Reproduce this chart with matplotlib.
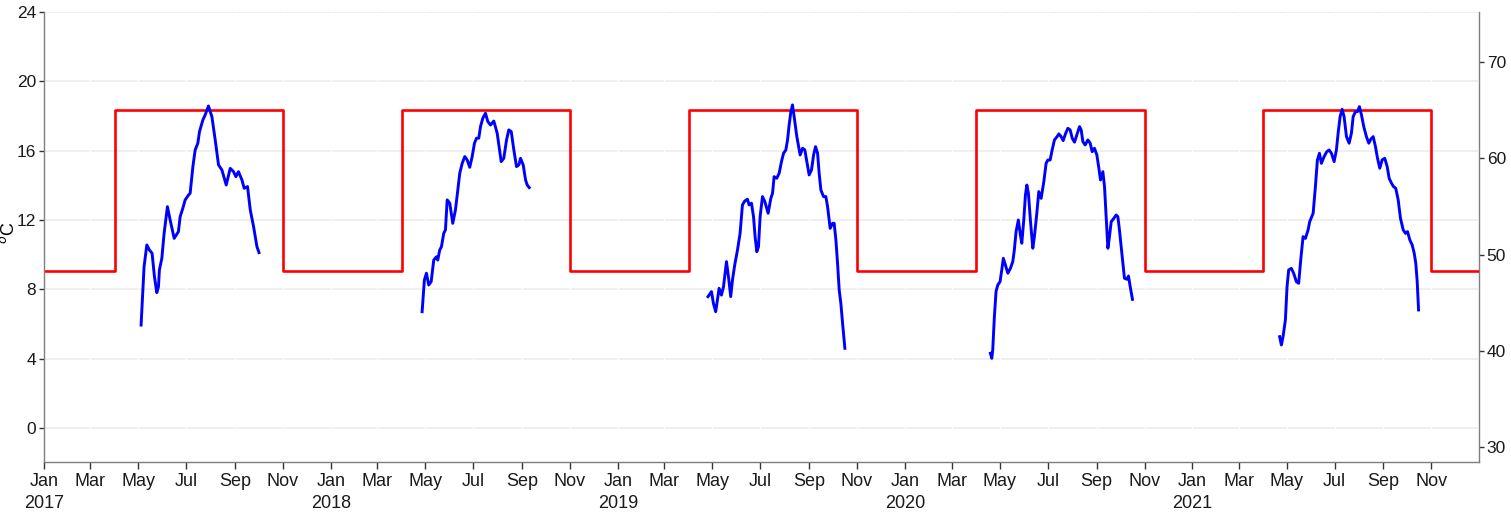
import matplotlib
matplotlib.use("Agg")
import matplotlib.pyplot as plt
import numpy as np
import pandas as pd
from matplotlib import font_manager

names = {f.name for f in font_manager.fontManager.ttflist}
fam = [n for n in ["Liberation Sans Narrow", "Liberation Sans", "DejaVu Sans"] if n in names]
plt.rcParams["font.family"] = fam

# ---- data: day-of-year (0 = Jan 1) and water temperature (deg C) per season
doy_2017 = [123.5, 127.3, 130.8, 134.1, 137.5, 140.5, 143.5, 145.6, 146.8, 149.9, 152.8, 157.0, 160.5,
            165.6, 171.0, 173.2, 176.6, 179.6, 183.8, 185.9, 189.4, 192.3, 195.7, 197.8, 202.1, 205.0,
            209.2, 213.6, 217.8, 222.0, 226.3, 231.8, 236.9, 241.1, 244.1, 247.4, 251.8, 254.7, 258.9,
            262.4, 266.6, 270.9, 273.5]
temp_2017 = [5.94, 9.31, 10.56, 10.27, 10.08, 8.73, 7.81, 8.15, 9.12, 9.79, 11.23, 12.77, 12.0,
             10.94, 11.33, 12.19, 12.68, 13.16, 13.44, 13.54, 15.08, 16.04, 16.43, 17.1, 17.77, 18.06,
             18.58, 17.96, 16.62, 15.18, 14.89, 14.02, 14.98, 14.79, 14.5, 14.79, 14.31, 13.83, 13.93,
             12.58, 11.62, 10.46, 10.12]

doy_2018 = [116.0, 118.9, 121.5, 124.4, 127.5, 130.8, 134.2, 135.9, 138.4, 140.6, 143.5, 145.7, 147.9,
            151.2, 155.0, 158.4, 161.4, 163.9, 167.0, 170.3, 173.3, 176.6, 179.7, 182.6, 185.2, 188.1,
            190.3, 193.2, 196.6, 199.6, 203.0, 207.2, 211.5, 216.6, 219.9, 223.4, 226.3, 229.4, 232.7,
            236.1, 239.1, 241.2, 244.6, 247.6, 249.7, 252.3]
temp_2018 = [6.71, 8.54, 8.93, 8.25, 8.44, 9.69, 9.88, 9.69, 10.27, 10.46, 11.23, 11.43, 13.16,
             12.97, 11.81, 12.58, 13.73, 14.70, 15.27, 15.66, 15.47, 15.04, 15.66, 16.43, 16.72, 16.72,
             17.39, 17.87, 18.16, 17.68, 17.48, 17.71, 17.01, 15.37, 15.56, 16.62, 17.20, 17.10, 16.04,
             15.08, 15.18, 15.56, 15.18, 14.31, 14.02, 13.87]

doy_2019 = [114.7, 119.1, 121.6, 124.5, 126.7, 128.8, 131.8, 134.4, 138.2, 140.7, 143.6, 145.8, 148.7,
            152.2, 155.5, 158.5, 161.5, 164.9, 167.0, 170.0, 172.6, 174.6, 176.8, 178.9, 181.0, 184.0,
            187.0, 191.2, 194.6, 196.8, 198.8, 202.2, 205.2, 208.2, 210.8, 213.7, 215.9, 217.9, 220.1,
            222.2, 224.3, 227.7, 231.9, 235.0, 237.9, 240.4, 243.4, 246.4, 249.0, 251.5, 254.1, 256.1,
            258.3, 261.7, 264.6, 266.8, 270.1, 273.2, 275.2, 277.4, 279.5, 281.6, 283.7, 285.9, 288.8]
temp_2019 = [7.58, 7.87, 7.19, 6.71, 7.39, 8.06, 7.67, 8.15, 9.60, 8.73, 7.58, 8.54, 9.41,
             10.27, 11.23, 12.87, 13.10, 13.20, 12.87, 12.97, 12.19, 11.04, 10.17, 10.46, 12.19, 13.35,
             13.06, 12.39, 13.25, 13.54, 14.50, 14.41, 14.70, 15.37, 15.85, 16.04, 16.62, 17.48, 18.25,
             18.64, 17.96, 16.81, 15.75, 16.14, 16.04, 15.37, 14.60, 14.89, 15.75, 16.23, 15.85, 14.70,
             13.73, 13.35, 13.35, 12.77, 11.52, 11.81, 11.81, 10.85, 9.50, 7.96, 7.19, 6.04, 4.60]

doy_2020 = [108.9, 110.7, 111.9, 114.0, 116.1, 118.3, 121.2, 123.4, 125.4, 128.0, 131.1, 134.4, 137.4,
            139.4, 141.6, 144.5, 147.1, 148.9, 151.4, 153.5, 155.3, 157.3, 159.8, 162.9, 164.9, 168.0,
            170.5, 173.5, 176.9, 179.8, 182.0, 184.9, 187.5, 190.4, 193.8, 196.0, 198.9, 201.5, 204.4,
            207.5, 210.4, 213.0, 215.9, 218.9, 222.3, 224.4, 226.6, 229.5, 232.9, 235.9, 238.4, 241.3,
            244.4, 246.9, 249.0, 252.0, 254.1, 256.2, 258.4, 260.4, 262.6, 266.0, 268.9, 271.1, 273.1,
            275.3, 277.5, 279.5, 282.6, 284.6, 286.8, 289.7]
temp_2020 = [4.31, 4.02, 4.50, 6.42, 7.87, 8.25, 8.44, 9.12, 9.79, 9.41, 8.93, 9.21, 9.60,
             10.27, 11.33, 12.0, 11.14, 10.66, 12.0, 13.44, 14.02, 13.54, 12.0, 10.37, 11.04, 12.39,
             13.64, 13.25, 14.21, 15.27, 15.46, 15.46, 16.04, 16.62, 16.81, 16.97, 16.81, 16.58, 16.97,
             17.29, 17.20, 16.72, 16.49, 16.91, 17.39, 17.20, 16.52, 16.33, 16.62, 16.43, 15.94, 16.14,
             15.75, 14.99, 14.31, 14.79, 13.93, 12.19, 10.37, 11.04, 11.90, 12.10, 12.29, 12.19, 11.43,
             10.46, 9.50, 8.64, 8.58, 8.77, 8.15, 7.42]

doy_2021 = [110.9, 113.1, 115.2, 118.2, 120.3, 122.4, 125.8, 128.7, 132.2, 135.1, 137.7, 140.7, 143.7,
            147.1, 149.1, 153.5, 156.4, 158.9, 161.5, 164.0, 167.5, 170.8, 173.8, 176.8, 180.2, 183.1,
            185.3, 187.8, 190.4, 192.9, 195.9, 199.3, 202.2, 204.4, 207.3, 209.9, 212.4, 215.0, 217.9,
            221.3, 224.3, 226.8, 229.9, 232.8, 235.4, 238.3, 241.3, 244.6, 247.7, 250.2, 253.2, 255.7,
            258.6, 261.7, 264.6, 268.1, 271.0, 273.6, 276.5, 279.5, 282.1, 284.1, 285.9, 287.6]
temp_2021 = [5.27, 4.79, 5.27, 6.23, 8.15, 9.12, 9.21, 8.93, 8.44, 8.35, 9.69, 11.04, 10.94,
             11.43, 11.90, 12.39, 13.93, 15.46, 15.85, 15.27, 15.66, 15.94, 16.04, 15.85, 15.37, 16.04,
             17.01, 17.96, 18.39, 17.96, 16.81, 16.43, 17.01, 17.96, 18.25, 18.25, 18.54, 18.06, 17.39,
             16.81, 16.43, 16.66, 16.81, 16.23, 15.56, 14.99, 15.47, 15.56, 15.08, 14.41, 14.12, 13.93,
             13.83, 13.16, 12.10, 11.43, 11.23, 11.33, 10.85, 10.56, 10.08, 9.50, 8.44, 6.81]

seasons = {2017: (doy_2017, temp_2017), 2018: (doy_2018, temp_2018), 2019: (doy_2019, temp_2019),
           2020: (doy_2020, temp_2020), 2021: (doy_2021, temp_2021)}

# threshold step line (deg C): low outside season, high Apr-Oct
threshold_dates = ["2017-01-01", "2017-04-01", "2017-11-01", "2018-04-01", "2018-11-01",
                   "2019-04-01", "2019-11-01", "2020-04-01", "2020-11-01", "2021-04-01",
                   "2021-11-01", "2021-12-31"]
threshold_vals = [9.05, 18.33, 9.05, 18.33, 9.05, 18.33, 9.05, 18.33, 9.05, 18.33, 9.05, 9.05]

left_ticks = [0, 4, 8, 12, 16, 20, 24]
right_ticks = [30, 40, 50, 60, 70]

# ---- figure
W, H = 1511, 519
fig = plt.figure(figsize=(W / 100, H / 100), dpi=100)
ax = fig.add_axes([44 / W, (H - 462) / H, (1479 - 44) / W, (462 - 12) / H])

axis_col = "#7f7f7f"
txt_col = "#1a1a1a"

for tv in left_ticks:
    ax.axhline(tv, color="#ebebeb", lw=1.1, zorder=0.5)

xticks = pd.date_range("2017-01-01", "2021-11-01", freq="2MS")
for xt in xticks:
    ax.axvline(xt, color="white", lw=0.8, zorder=0.6)

td = pd.to_datetime(threshold_dates)
ax.step(td, threshold_vals, where="post", color="#ff0000", lw=1.9, zorder=2)

for yr, (d, t) in seasons.items():
    dates = pd.Timestamp(f"{yr}-01-01") + pd.to_timedelta(np.array(d), unit="D")
    ax.plot(dates, t, color="#0000ff", lw=2.1, zorder=3, solid_joinstyle="round")

ax.set_xlim(pd.Timestamp("2017-01-01"), pd.Timestamp("2021-12-31 12:00"))
ax.set_ylim(-1.96, 24.0)

ax.set_yticks(left_ticks)
ax.set_xticks(xticks)
ax.set_xticklabels([f"{x:%b}\n{x:%Y}" if x.month == 1 else f"{x:%b}" for x in xticks],
                   ha="center", linespacing=1.35)

for s in ["top", "right"]:
    ax.spines[s].set_visible(False)
for s in ["left", "bottom"]:
    ax.spines[s].set_color(axis_col)
    ax.spines[s].set_linewidth(1.0)

ax.tick_params(axis="y", length=3.5, width=1.0, color="#333333", labelsize=12.5, labelcolor=txt_col, pad=2)
ax.tick_params(axis="x", length=5, width=1.0, color="#333333", labelsize=13, labelcolor=txt_col, pad=3)

sec = ax.secondary_yaxis("right", functions=(lambda c: c * 9 / 5 + 32, lambda f: (f - 32) * 5 / 9))
sec.set_yticks(right_ticks)
sec.spines["right"].set_color(axis_col)
sec.spines["right"].set_linewidth(1.0)
sec.tick_params(axis="y", length=3.5, width=1.0, color="#333333", labelsize=12.5, labelcolor=txt_col, pad=2)

fig.text(9 / W, (H - 233) / H, r"$^o$C", rotation=90, ha="center", va="center",
         fontsize=13, color="black")
fig.text(1505 / W, (H - 240) / H, r"$^o$F", rotation=270, ha="left", va="center",
         fontsize=14, color="black")

fig.savefig("out.png", dpi=100)
